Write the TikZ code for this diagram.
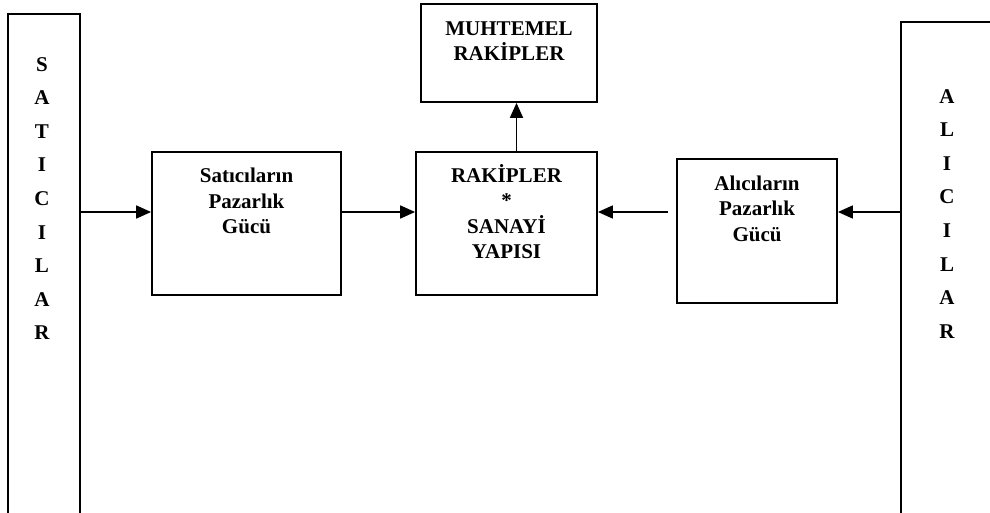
\documentclass[tikz,border=0pt]{standalone}
\usepackage{fontspec}
\setmainfont{Liberation Serif}
\usetikzlibrary{positioning, arrows.meta}

\begin{document}
\begin{tikzpicture}[x=1pt, y=-1pt,
	every node/.style={font=\bfseries\fontsize{21}{25.5}\selectfont},
	box/.style={draw, line width=1.8pt, inner sep=0pt},
	txt/.style={align=center, inner sep=0pt},
	letters/.style={align=center, inner sep=0pt, font=\bfseries\fontsize{21}{33.6}\selectfont},
	arr/.style={-{Triangle[length=15pt, width=13pt]}, line width=1.8pt}]
	\useasboundingbox (0,0) rectangle (990,513);
	\clip (0,0) rectangle (990,513);
	% side bars
	\node[box, minimum width=72pt, minimum height=540pt, anchor=north] (satici) at (44,13) {};
	\node[box, minimum width=98pt, minimum height=540pt, anchor=north] (alici) at (950,21) {};
	\node[letters, anchor=north] (satlet) at (42,57) {S\\A\\T\\I\\C\\I\\L\\A\\R};
	\node[letters, anchor=north] (alilet) at (947,89) {A\\L\\I\\C\\I\\L\\A\\R};
	% boxes
	\node[box, minimum width=189pt, minimum height=143pt] (satbox) at (246.5,223.5) {};
	\node[box, minimum width=181pt, minimum height=143pt] (rakbox) at (506.5,223.5) {};
	\node[box, minimum width=176pt, minimum height=98pt] (muhbox) at (509,53) {};
	\node[box, minimum width=160pt, minimum height=144pt] (alibox) at (757,231) {};
	\node[txt, below=17.1pt of satbox.north] (sattxt) {Satıcıların\\Pazarlık\\Gücü};
	\node[txt, below=12.9pt of rakbox.north] (raktxt) {RAKİPLER\\*\\SANAYİ\\YAPISI};
	\node[txt, below=18.1pt of muhbox.north] (muhtxt) {MUHTEMEL\\RAKİPLER};
	\node[txt, below=17.5pt of alibox.north] (alitxt) {Alıcıların\\Pazarlık\\Gücü};
	% arrows
	\coordinate (lvl) at (0,212);
	\draw[arr] (satici.east |- lvl) -- (satbox.west |- lvl);
	\draw[arr] (satbox.east |- lvl) -- (rakbox.west |- lvl);
	\draw[arr] ([xshift=10pt]rakbox.north) -- ([xshift=10pt]rakbox.north |- muhbox.south);
	\draw[arr] (alici.west |- lvl) -- (alibox.east |- lvl);
	\draw[arr, shorten <=8pt] (alibox.west |- lvl) -- (rakbox.east |- lvl);
\end{tikzpicture}
\end{document}
